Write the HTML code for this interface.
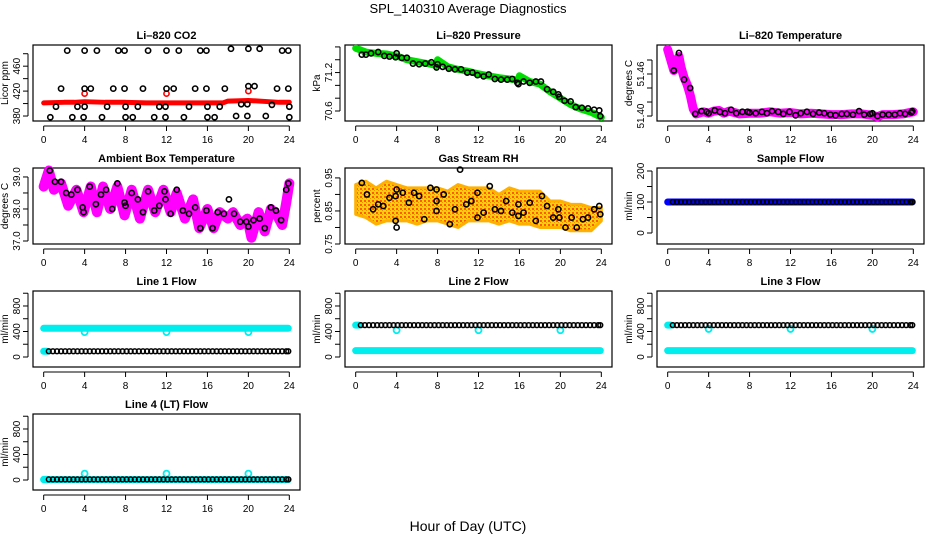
<!DOCTYPE html>
<html><head><meta charset="utf-8"><style>
body{margin:0;background:#fff;}
svg{display:block;font-family:"Liberation Sans",Arial,sans-serif;}
</style></head><body>
<svg id="chart" width="936" height="540" viewBox="0 0 936 540">
<defs>
<pattern id="rhpat" width="4" height="4" patternUnits="userSpaceOnUse">
<rect width="4" height="4" fill="#ffd400"/><rect width="2" height="2" fill="#ff5a00"/><rect x="2" y="2" width="1" height="1" fill="#ff8800"/>
</pattern>
</defs>
<text x="468" y="13" text-anchor="middle" font-size="13">SPL_140310  Average Diagnostics</text>
<text x="468" y="531" text-anchor="middle" font-size="14">Hour of Day (UTC)</text>
</svg>
<script>
// ---- data ----
const xTicks = [0,4,8,12,16,20,24];
const co2TopH = [2.3,4.0,5.2,7.3,7.9,10.2,12.0,13.2,15.3,15.9,18.3,20.0,21.1,23.3,23.9];
const co2TopV = [485,485,485,485,485,485,485,485,485,485,488,488,488,485,485];
const co2MidH = [1.7,4.0,4.6,6.8,7.9,9.7,12.0,12.7,14.8,15.9,17.7,20.0,20.6,22.8,23.9];
const co2MidV = [424,424,424,424,424,424,424,424,424,424,424,428,428,424,424];
const co2LowH = [1.2,3.3,4.0,6.2,8.0,9.2,11.3,11.9,14.2,16.0,17.2,19.3,19.9,22.3,24.0];
const co2LowV = [395,395,395,395,395,395,395,395,395,395,395,399,399,398,395];
const co2BotH = [0.65,2.8,3.9,5.7,8.0,8.7,10.8,11.9,13.7,16.0,16.7,18.8,19.9,21.7,24.0];
const co2BotV = [378,378,378,378,378,378,378,378,378,378,378,380,380,380,378];
const co2RedH = [0,2,3,4,6,8,10,12,14,16,17.5,18,20,22,23,24];
const co2RedV = [401,402,402,403,402,402,401,401,401,401,401,404,405,403,402,402];
const co2OutH = [4,12,20];
const co2OutV = [416,416,420];
const presH = [0,1,2,3,4,5,6,7,7.9,8.0,9,10,11,12,13,14,15,15.9,16.0,17,18,19,20,21,22,23,24];
const presV = [71.58,71.52,71.50,71.49,71.46,71.40,71.37,71.34,71.31,71.40,71.29,71.25,71.22,71.18,71.15,71.12,71.10,71.08,71.15,71.06,71.02,70.90,70.80,70.70,70.63,70.58,70.50];
const presBH = [0.6,1.0,1.5,2.2,2.8,3.3,3.9,4.0,4.5,5.0,5.6,6.2,6.8,7.4,7.9,8.0,8.5,9.1,9.7,10.3,10.9,11.4,11.9,12.5,13.0,13.6,14.2,14.8,15.3,15.8,15.9,16.4,17.0,17.6,18.1,18.7,19.3,19.8,19.9,20.4,21.0,21.5,22.1,22.7,23.3,23.8,23.9];
const presBV = [71.48,71.48,71.50,71.52,71.46,71.45,71.44,71.50,71.43,71.43,71.34,71.33,71.34,71.36,71.28,71.33,71.29,71.26,71.25,71.25,71.20,71.20,71.16,71.14,71.17,71.10,71.09,71.09,71.10,71.04,71.02,71.06,71.04,71.06,71.06,70.94,70.90,70.86,70.82,70.76,70.75,70.66,70.65,70.64,70.62,70.61,70.52];
const tempH = [0,0.3,0.6,0.9,1.1,1.3,1.6,1.9,2.2,2.5,2.8,3.5,4,4.5,5,5.5,6,6.5,7,8,9,10,11,12,13,14,15,16,17,18,19,20,20.5,21,22,23,24];
const tempV = [51.495,51.48,51.465,51.48,51.485,51.47,51.455,51.445,51.43,51.41,51.403,51.406,51.404,51.407,51.408,51.404,51.407,51.405,51.403,51.404,51.404,51.406,51.404,51.405,51.403,51.404,51.403,51.402,51.402,51.403,51.403,51.401,51.399,51.402,51.402,51.403,51.406];
const tempBH = [0.6,1.1,1.6,2.2,2.7,3.3,3.8,4.0,4.6,5.1,5.6,6.2,6.7,7.3,7.8,8.0,8.6,9.2,9.7,10.2,10.8,11.3,11.9,12.5,13.0,13.6,14.2,14.8,15.3,15.9,16.4,17.0,17.5,18.1,18.7,19.2,19.8,20.0,20.5,21.0,21.6,22.2,22.7,23.2,23.8,23.9];
const tempBV = [51.465,51.49,51.452,51.44,51.403,51.407,51.406,51.404,51.408,51.406,51.404,51.409,51.404,51.406,51.406,51.405,51.404,51.406,51.404,51.407,51.406,51.403,51.406,51.401,51.404,51.406,51.403,51.405,51.404,51.402,51.401,51.403,51.403,51.402,51.407,51.402,51.403,51.404,51.400,51.402,51.402,51.402,51.404,51.403,51.405,51.407];
const ambH = [0,0.5,1.0,1.7,2.4,3.2,3.9,4.6,5.2,5.8,6.5,7.2,7.9,8.6,9.4,10.2,10.9,11.7,12.4,13.0,13.8,14.6,15.2,16.0,16.6,17.2,18.0,18.5,19.2,19.9,20.3,21.0,21.6,22.2,22.8,23.3,23.7,24.0];
const ambV = [38.7,39.2,38.6,38.8,38.1,38.6,37.9,38.7,37.9,38.7,38.0,38.7,37.8,38.6,37.7,38.6,37.9,38.6,37.9,38.5,37.7,38.3,37.4,38.0,37.4,37.9,37.7,37.9,37.5,37.7,37.1,37.9,37.3,38.0,37.8,37.5,38.2,38.8];
const ambBH = [0.6,1.1,1.7,2.2,2.7,3.3,3.8,3.9,4.5,5.1,5.6,6.1,6.7,7.2,7.9,8.0,8.6,9.2,9.7,10.2,10.8,11.3,11.8,11.9,12.4,13.0,13.6,14.2,14.8,15.3,15.9,16.5,17.0,17.6,18.1,18.6,19.2,19.8,20.0,20.5,21.1,21.6,22.2,22.7,23.2,23.7,23.9];
const ambBV = [39.2,38.85,38.85,38.5,38.45,38.6,38.05,37.9,38.7,38.15,38.45,38.6,38.0,38.8,38.2,38.1,38.5,38.3,37.9,38.55,37.95,38.1,38.55,38.3,37.85,38.6,37.95,37.85,38.05,37.4,37.95,37.4,37.9,37.85,38.3,37.85,37.6,37.6,37.45,37.65,37.7,37.4,38.05,37.95,37.65,38.6,38.8];
const rhHours = [0,1,2,3,4,5,6,7,8,9,10,11,12,13,14,15,16,17,18,19,20,21,22,23,24];
const rhUpper = [0.93,0.94,0.92,0.94,0.93,0.92,0.92,0.92,0.92,0.91,0.93,0.92,0.92,0.92,0.90,0.92,0.91,0.91,0.91,0.88,0.88,0.87,0.87,0.86,0.86];
const rhLower = [0.84,0.83,0.81,0.82,0.82,0.82,0.81,0.82,0.82,0.81,0.80,0.82,0.82,0.82,0.81,0.82,0.81,0.81,0.80,0.80,0.80,0.79,0.79,0.79,0.82];
const rhBH = [0.6,1.1,1.7,2.2,2.7,3.3,3.9,4.0,3.9,4.0,4.6,5.2,5.7,6.2,6.7,7.3,7.9,7.9,7.9,8.6,9.2,9.7,10.2,10.8,11.3,11.9,11.9,12.5,13.1,13.6,14.2,14.7,15.3,15.9,15.9,16.4,17.0,17.6,18.2,18.7,19.3,19.8,19.9,20.5,21.1,21.6,22.2,22.7,23.3,23.8,23.9];
const rhBV = [0.935,0.90,0.855,0.87,0.865,0.89,0.895,0.915,0.82,0.80,0.905,0.875,0.905,0.895,0.825,0.92,0.915,0.88,0.85,0.90,0.81,0.855,0.975,0.87,0.88,0.905,0.83,0.845,0.925,0.855,0.85,0.88,0.845,0.87,0.835,0.845,0.875,0.82,0.895,0.865,0.83,0.855,0.83,0.80,0.83,0.80,0.825,0.83,0.855,0.865,0.84];
const sampleHours = [0.5,0.9,1.3,1.7,2.1,2.5,2.9,3.3,3.7,4.1,4.5,4.9,5.3,5.7,6.1,6.5,6.9,7.3,7.7,8.1,8.5,8.9,9.3,9.7,10.1,10.5,10.9,11.3,11.7,12.1,12.5,12.9,13.3,13.7,14.1,14.5,14.9,15.3,15.7,16.1,16.5,16.9,17.3,17.7,18.1,18.5,18.9,19.3,19.7,20.1,20.5,20.9,21.3,21.7,22.1,22.5,22.9,23.3,23.7,23.9];
const flowSpan = [0,23.9];
const sampleFlowLevel = [100,100];
const line1Cyan = [450,450];
const line1Black = [90,90];
const line2Cyan = [100,100];
const line2Black = [500,500];
const line3Cyan = [100,100];
const line3Black = [500,500];
const line4Cyan = [5,5];
const line4Black = [10,10];
const outlierH = [4,12,20];
const line1Out = [390,390,390];
const line2Out = [420,420,420];
const line3Out = [440,440,440];
const line4Out = [100,100,100];

// ---- drawing ----
const NS = "http://www.w3.org/2000/svg";
const svg = document.getElementById('chart');
const colL = [33,345,657], rowT = [45,168,291,414], W = 267, H = 76;
function mk(tag, attrs, parent){const e=document.createElementNS(NS,tag);for(const k in attrs)e.setAttribute(k,attrs[k]);(parent||svg).appendChild(e);return e;}

function panel(c, r, name, title, ylab, ymin, ymax, ticks, labels){
  const L = colL[c], T = rowT[r];
  const g = mk('g',{});
  
  
  const xs = h => L + W*(0.04 + 0.92*h/24);
  const ys = v => T + H - (v - ymin)/(ymax - ymin)*H;
  const t = mk('text',{x:L+W/2, y:T-6, 'text-anchor':'middle','font-size':11,'font-weight':'bold'},g);
  t.textContent = title;
  
  
  const box = mk('rect',{x:L,y:T,width:W,height:H,fill:'none',stroke:'#000','stroke-width':1.2},g);
  
  
  const xa = mk('g',{},g);
  
  
  mk('line',{x1:xs(xTicks[0]),x2:xs(xTicks[xTicks.length-1]),y1:T+H+5,y2:T+H+5,stroke:'#000'},xa);
  xTicks.forEach(v=>{
    mk('line',{x1:xs(v),x2:xs(v),y1:T+H+5,y2:T+H+10,stroke:'#000'},xa);
    const tl = mk('text',{x:xs(v),y:T+H+22,'text-anchor':'middle','font-size':10},xa);
    tl.textContent = v;
    
    
  });
  const ya = mk('g',{},g);
  
  
  mk('line',{x1:L-5,x2:L-5,y1:ys(ticks[0]),y2:ys(ticks[ticks.length-1]),stroke:'#000'},ya);
  ticks.forEach(v=>mk('line',{x1:L-10,x2:L-5,y1:ys(v),y2:ys(v),stroke:'#000'},ya));
  labels.forEach(v=>{
    const yy = ys(v);
    const tl = mk('text',{x:L-13,y:yy,'text-anchor':'middle','font-size':10,transform:`rotate(-90 ${L-13} ${yy})`},ya);
    tl.textContent = String(v);
    if (name==='li820-temperature') tl.textContent = v.toFixed(2);
    if (name==='ambient-box-temperature') tl.textContent = v.toFixed(1);
    
    
  });
  const yl = mk('text',{x:L-25,y:T+H/2,'text-anchor':'middle','font-size':10,transform:`rotate(-90 ${L-25} ${T+H/2})`},g);
  yl.textContent = ylab;
  
  
  const data = mk('g',{},g);
  
  
  return {xs, ys, g:data};
}
function pts(p, H_, V_, stroke, r, sw, fill){
  H_.forEach((h,i)=>{
    const c = mk('circle',{cx:p.xs(h),cy:p.ys(V_[i]),r:r||2.6,fill:fill||'none',stroke:stroke,'stroke-width':sw||1.6},p.g);
    
    
  });
}
function line(p, H_, V_, stroke, w){
  const l = mk('polyline',{points:H_.map((h,i)=>p.xs(h)+','+p.ys(V_[i])).join(' '),fill:'none',stroke:stroke,'stroke-width':w,'stroke-linejoin':'round','stroke-linecap':'round'},p.g);
  
  
}

let p = panel(0,0,'li820-co2','Li–820 CO2','Licor ppm',372,494,[380,400,420,440,460,480],[380,420,460]);
line(p, co2RedH, co2RedV, '#ff0000', 5);
pts(p, co2OutH, co2OutV, '#ff0000');
pts(p, co2TopH, co2TopV, '#000'); pts(p, co2MidH, co2MidV, '#000');
pts(p, co2LowH, co2LowV, '#000'); pts(p, co2BotH, co2BotV, '#000');

p = panel(1,0,'li820-pressure','Li–820 Pressure','kPa',70.444,71.63,[70.6,70.8,71.0,71.2,71.4,71.6],[70.6,71.2]);
line(p, presH, presV, '#00dd00', 7);
pts(p, presBH, presBV, '#000');

p = panel(2,0,'li820-temperature','Li–820 Temperature','degrees C',51.3929,51.5014,[51.40,51.42,51.44,51.46,51.48],[51.40,51.46]);
line(p, tempH, tempV, '#ff00ff', 9);
pts(p, tempBH, tempBV, '#000');

p = panel(0,1,'ambient-box-temperature','Ambient Box Temperature','degrees C',36.906,39.28,[37.0,37.5,38.0,38.5,39.0],[37.0,38.0,39.0]);
line(p, ambH, ambV, '#ff00ff', 10);
pts(p, ambBH, ambBV, '#000');

p = panel(1,1,'gas-stream-rh','Gas Stream RH','percent',0.75,0.98,[0.75,0.80,0.85,0.90,0.95],[0.75,0.85,0.95]);
{
  const up = rhHours.map((h,i)=>p.xs(h)+','+p.ys(rhUpper[i]));
  const lo = rhHours.map((h,i)=>p.xs(h)+','+p.ys(rhLower[i])).reverse();
  const band = mk('polygon',{points:up.concat(lo).join(' '),fill:'url(#rhpat)',stroke:'#ffb000','stroke-width':3,'stroke-linejoin':'round'},p.g);
  
  
}
pts(p, rhBH, rhBV, '#000');

p = panel(2,1,'sample-flow','Sample Flow','ml/min',-35.5,209.7,[0,50,100,150,200],[0,100,200]);
line(p, flowSpan, sampleFlowLevel, '#0000ff', 7);
pts(p, sampleHours, sampleHours.map(()=>sampleFlowLevel[0]), '#000', 2.4, 1.4);

const flowTicks=[0,200,400,600,800,1000], flowLabels=[0,400,800];
function flowPanel(c,r,name,title,cy,bk,out){
  const q = panel(c,r,name,title,'ml/min',-157,1035,flowTicks,flowLabels);
  line(q, flowSpan, cy, '#00eeee', 7);
  line(q, [0,0.3], bk, '#00eeee', 7);
  pts(q, outlierH, out, '#00eeee', 3, 1.8);
  pts(q, sampleHours, sampleHours.map(()=>bk[0]), '#000', 2.4, 1.5);
}
flowPanel(0,2,'line-1-flow','Line 1 Flow',line1Cyan,line1Black,line1Out);
flowPanel(1,2,'line-2-flow','Line 2 Flow',line2Cyan,line2Black,line2Out);
flowPanel(2,2,'line-3-flow','Line 3 Flow',line3Cyan,line3Black,line3Out);
flowPanel(0,3,'line-4-flow','Line 4 (LT) Flow',line4Cyan,line4Black,line4Out);
</script>
</body></html>
